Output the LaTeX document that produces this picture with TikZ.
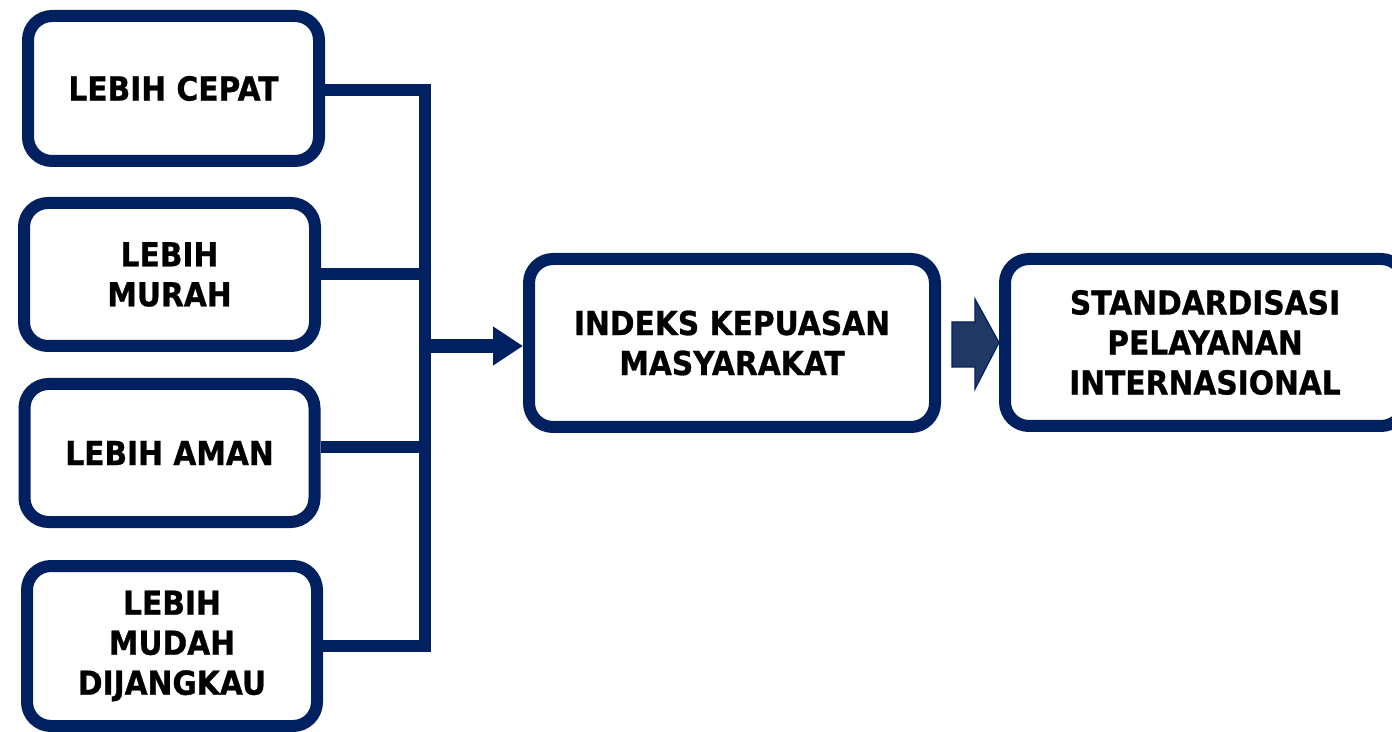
\documentclass[tikz,border=0pt]{standalone}
\usepackage{fontspec}
\setmainfont{DejaVu Sans}[FakeStretch=0.9, BoldFeatures={FakeBold=0.8}]
\usetikzlibrary{arrows.meta}
\definecolor{navy}{RGB}{0,32,96}
\definecolor{arrowfill}{RGB}{31,56,100}
\tikzset{
  box/.style={draw=navy, line width=6pt, rounded corners=12pt, fill=white,
    align=center, font=\fontsize{16.5}{20}\selectfont\bfseries, inner sep=0pt},
  conn/.style={draw=navy, line width=6pt},
}
\begin{document}
\begin{tikzpicture}[x=0.5pt,y=-0.5pt]
\useasboundingbox (0,0) rectangle (1392,732);
\node[box, minimum width=145.5pt, minimum height=72.5pt] (b1) at (173.5,88.5) {LEBIH CEPAT};
\node[box, minimum width=145.5pt, minimum height=71.5pt] (b2) at (169.5,274.5) {LEBIH\\MURAH};
\node[box, minimum width=145pt, minimum height=69pt] (b3) at (169.5,453) {LEBIH AMAN};
\node[box, minimum width=145pt, minimum height=80pt] (b4) at (172,646) {LEBIH\\MUDAH\\DIJANGKAU};
\node[box, minimum width=203pt, minimum height=84pt] (ikm) at (732,343) {INDEKS KEPUASAN\\MASYARAKAT};
\node[box, minimum width=200pt, minimum height=83.5pt] (std) at (1205,342.5) {STANDARDISASI\\PELAYANAN\\INTERNASIONAL};
\coordinate (spine) at (425,346);
\draw[conn, line join=miter] ([yshift=-1pt]b1.east) -- ([yshift=-1pt]b1.east -| spine) -- (b4.east -| spine) -- (b4.east);
\draw[conn] (b2.east) -- (b2.east -| spine);
\draw[conn] ([yshift=3pt]b3.east) -- ([yshift=3pt]b3.east -| spine);
\draw[draw=navy, line width=7pt, -{Triangle[length=15pt,width=18.5pt]}] ([xshift=-3pt]spine) -- (spine -| ikm.west);
\coordinate (ba) at (952,344);
\draw[fill=arrowfill, draw=navy, line width=0.6pt, line join=miter]
  (ba) ++(0,-22) -- ++(23,0) -- ++(0,-23) -- (std.west) -- (975,389) -- ++(0,-22) -- ++(-23,0) -- cycle;
\end{tikzpicture}
\end{document}
